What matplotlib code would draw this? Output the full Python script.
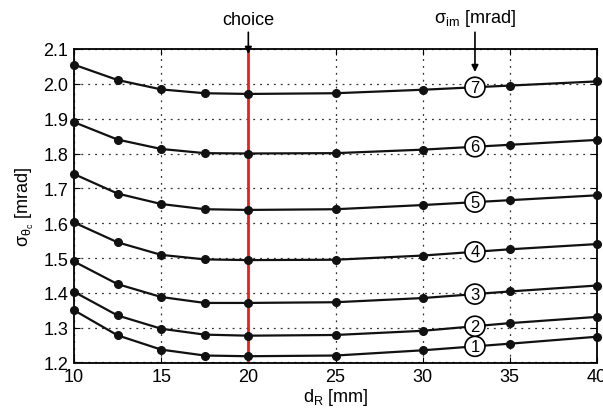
import numpy as np
import matplotlib
matplotlib.use("Agg")
import matplotlib.pyplot as plt

plt.rcParams['font.family'] = ['Liberation Sans', 'DejaVu Sans']

d_R = [10, 12.5, 15, 17.5, 20, 25, 30, 35, 40]
s1 = [1.350, 1.278, 1.237, 1.220, 1.218, 1.220, 1.235, 1.254, 1.274]
s2 = [1.403, 1.335, 1.297, 1.280, 1.277, 1.279, 1.291, 1.313, 1.331]
s3 = [1.490, 1.425, 1.388, 1.371, 1.371, 1.373, 1.385, 1.404, 1.421]
s4 = [1.602, 1.545, 1.509, 1.496, 1.494, 1.495, 1.507, 1.525, 1.540]
s5 = [1.741, 1.685, 1.655, 1.640, 1.638, 1.640, 1.652, 1.666, 1.680]
s6 = [1.890, 1.840, 1.813, 1.801, 1.800, 1.801, 1.811, 1.825, 1.839]
s7 = [2.055, 2.011, 1.984, 1.973, 1.971, 1.973, 1.983, 1.995, 2.007]
series = [s1, s2, s3, s4, s5, s6, s7]
labels = ['1', '2', '3', '4', '5', '6', '7']
label_x = 33
choice_x = 20

xticks = [10, 15, 20, 25, 30, 35, 40]
xticklabels = ['10', '15', '20', '25', '30', '35', '40']
yticks = [1.2, 1.3, 1.4, 1.5, 1.6, 1.7, 1.8, 1.9, 2.0, 2.1]

fig = plt.figure(figsize=(6.03, 4.14), dpi=100)
ax = fig.add_axes([74/603, 1-363.5/414, (597-74)/603, (363.5-50)/414])

ax.set_xlim(10, 40)
ax.set_ylim(1.2, 2.1)
ax.set_xticks(xticks)
ax.set_xticklabels(xticklabels)
ax.set_yticks(yticks)
ax.set_yticklabels([f"{v:.1f}" for v in yticks])
ax.grid(True, linestyle=(0, (1.5, 4)), color='#333333', linewidth=0.9)
ax.tick_params(direction='in', top=True, right=True, labelsize=13, length=4, pad=4)
for sp in ax.spines.values():
    sp.set_linewidth(1.3)

ax.axvline(choice_x, color='#e8201a', linewidth=2, zorder=2)

for s, lab in zip(series, labels):
    ax.plot(d_R, s, color='#111111', linewidth=1.6, marker='o', markersize=5.5,
            zorder=3, clip_on=False)
    yl = np.interp(label_x, d_R, s)
    ax.text(label_x, yl, lab, ha='center', va='center', fontsize=12, zorder=5,
            bbox=dict(boxstyle='circle,pad=0.15', fc='white', ec='black', lw=1.2))

ax.set_xlabel(r'd$_\mathregular{R}$ [mm]', fontsize=13, labelpad=1)
ax.set_ylabel(r'σ$_{\mathregular{θ_c}}$ [mrad]', fontsize=13, labelpad=5)

ax.annotate('choice', xy=(choice_x, 2.086), xytext=(choice_x, 2.16),
            ha='center', va='bottom', fontsize=13, annotation_clip=False,
            arrowprops=dict(arrowstyle='-|>', color='black', lw=1.2, mutation_scale=10,
                            shrinkA=1, shrinkB=0))
ax.annotate(r'σ$_\mathregular{im}$ [mrad]', xy=(label_x, 2.034), xytext=(label_x, 2.16),
            ha='center', va='bottom', fontsize=13, annotation_clip=False,
            arrowprops=dict(arrowstyle='-|>', color='black', lw=1.2, mutation_scale=10,
                            shrinkA=1, shrinkB=0))

fig.savefig('out.png', dpi=100)
